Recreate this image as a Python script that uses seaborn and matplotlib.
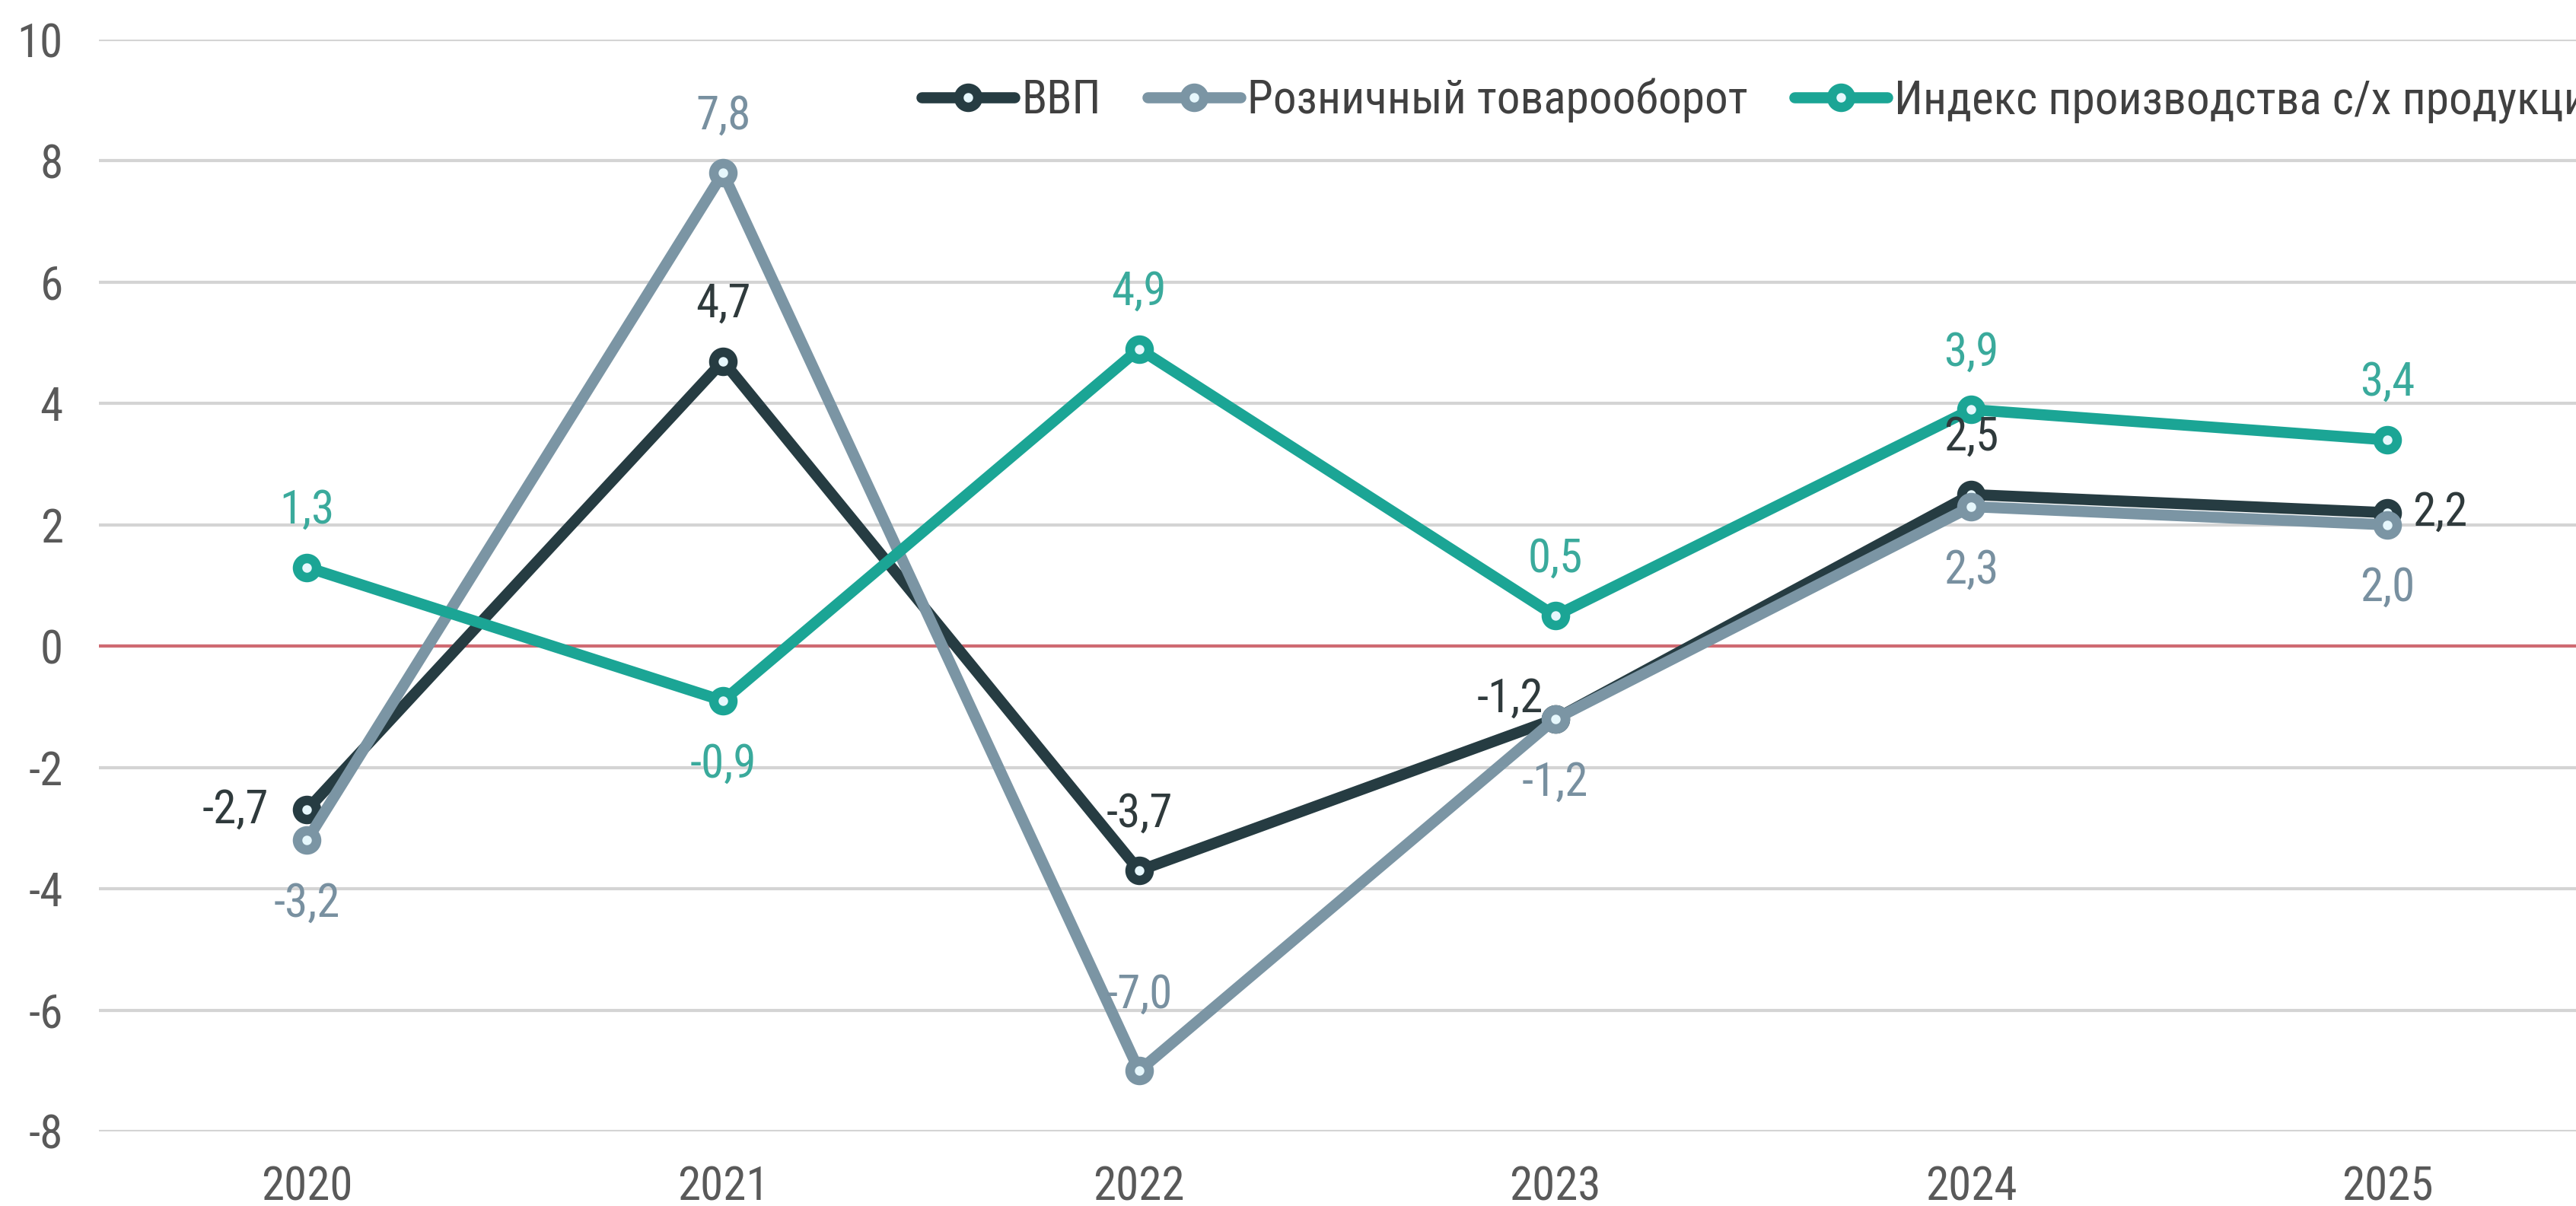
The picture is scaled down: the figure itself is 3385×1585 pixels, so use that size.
import matplotlib
matplotlib.use("Agg")
import matplotlib.pyplot as plt
from matplotlib import font_manager
import pandas as pd
import seaborn as sns

years = ["2020", "2021", "2022", "2023", "2024", "2025"]
series_names = ["ВВП", "Розничный товарооборот", "Индекс производства с/х продукции"]
gdp = [-2.7, 4.7, -3.7, -1.2, 2.5, 2.2]
retail = [-3.2, 7.8, -7.0, -1.2, 2.3, 2.0]
agro = [1.3, -0.9, 4.9, 0.5, 3.9, 3.4]
y_ticks = [-8, -6, -4, -2, 0, 2, 4, 6, 8, 10]

line_colors = ["#263c42", "#7b95a4", "#1ba595"]
label_colors = ["#2f3a3c", "#7890a0", "#3aaa9c"]

# where each value label sits relative to its point (offset in points)
OFF = {"up": (0, 54), "up2": (0, 72), "down": (0, -60), "left": (-68, 0),
       "right": (50, 0), "upleft": (-43, 19)}
placement = [
    ["left", "up", "up", "upleft", "up", "right"],
    ["down", "up", "up2", "down", "down", "down"],
    ["up", "down", "up", "up", "up", "up"],
]

sns.set_theme(style="white")
# narrow sans like the original, falling back to a regular one (smaller)
names = {f.name for f in font_manager.fontManager.ttflist}
fs = 37
main_font = "Liberation Sans"
for cand in ["Roboto Condensed", "PT Sans Narrow", "Archivo Narrow", "Sofia Sans Condensed"]:
    if cand in names:
        main_font, fs = cand, 44
        break
plt.rcParams["font.family"] = [main_font, "DejaVu Sans"]

df = pd.DataFrame({"year": years * 3,
                   "value": gdp + retail + agro,
                   "series": sum([[n] * len(years) for n in series_names], [])})

fig = plt.figure(figsize=(33.85, 15.85), dpi=100)
ax = fig.add_axes([130 / 3385, 1 - 1487 / 1585, 1 - 130 / 3385, (1487 - 52) / 1585])

for i, name in enumerate(series_names):
    sub = df[df["series"] == name]
    sns.lineplot(data=sub, x="year", y="value", ax=ax, color=line_colors[i],
                 linewidth=10.5, marker="o", markersize=18, markeredgewidth=9,
                 markeredgecolor=line_colors[i], markerfacecolor="#e6f7fc",
                 label=name, zorder=3 + i)
    for j, (yr, v) in enumerate(zip(sub["year"], sub["value"])):
        dx, dy = OFF[placement[i][j]]
        ax.annotate(f"{v:.1f}".replace(".", ","), (j, v), xytext=(dx, dy),
                    textcoords="offset points", ha="center", va="center",
                    fontsize=fs, color=label_colors[i], zorder=10)

ax.set_xlim(-0.5, 5 + (3385 - 3137) / 547)
ax.set_ylim(-8, 10)
ax.set_yticks(y_ticks)
ax.set_yticklabels([str(t) for t in y_ticks])
ax.grid(axis="y", color="#d4d4d4", linewidth=3)
ax.grid(axis="x", visible=False)
ax.axhline(0, color="#cf6a72", linewidth=3, zorder=2)
ax.set_axisbelow(True)
for s in ax.spines.values():
    s.set_visible(False)
ax.tick_params(axis="both", length=0, labelsize=fs, colors="#595959")
ax.tick_params(axis="y", pad=34)
ax.tick_params(axis="x", pad=32)
ax.set_xlabel("")
ax.set_ylabel("")

ax.legend(loc="center left", bbox_to_anchor=(0.332, 0.944), ncol=3, frameon=False,
          fontsize=fs, handlelength=2.0, handletextpad=0.15, columnspacing=1.0,
          borderpad=0, borderaxespad=0, labelcolor="#404040")

fig.savefig("out.png", dpi=100)
